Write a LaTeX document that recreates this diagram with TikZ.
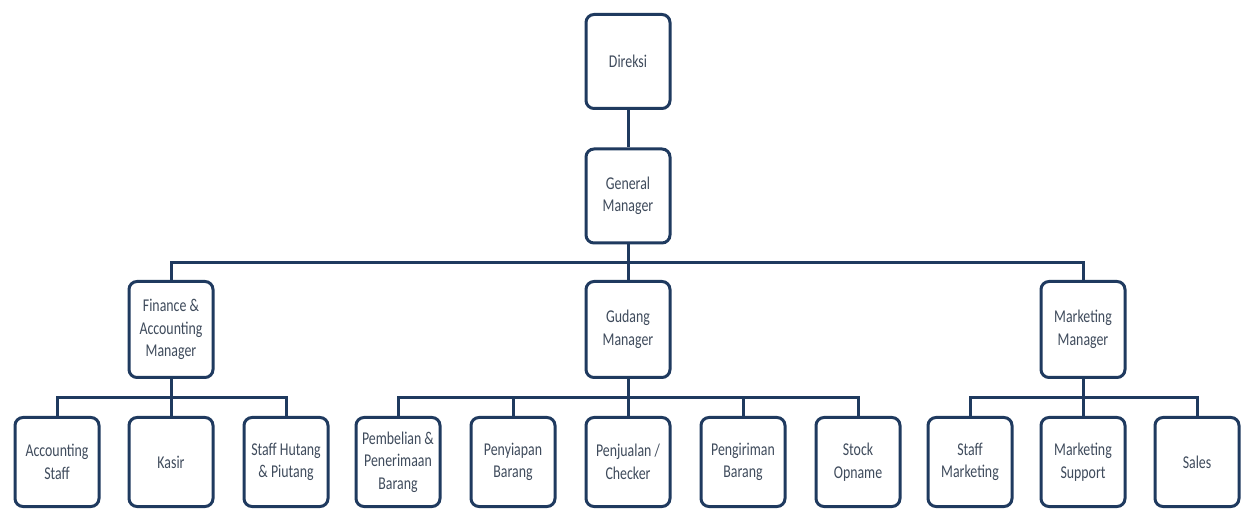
\documentclass[tikz,border=0pt]{standalone}
\usepackage{fontspec}
\setmainfont{Carlito}[FakeStretch=0.77]
\definecolor{navy}{HTML}{1F3A5F}
\definecolor{txt}{HTML}{3F4B5C}
\begin{document}
\begin{tikzpicture}[x=1pt,y=-1pt,
  orgbox/.style={draw=navy, line width=3pt, rounded corners=8pt, fill=white,
    minimum width=84pt, align=center, text=txt, inner sep=1pt,
    font=\fontsize{18}{22.5}\selectfont},
  top/.style={orgbox, minimum height=94pt},
  mid/.style={orgbox, minimum height=96pt},
  low/.style={orgbox, minimum height=89pt},
  conn/.style={draw=navy, line width=3pt}]
\useasboundingbox (0,0) rectangle (1248,510);
\fill[white] (0,0) rectangle (1248,510);
% nodes
\node[top] (dir) at (628,61.5) {Direksi};
\node[top] (gm) at (628,196) {General\\Manager};
\node[mid] (fin) at (171,329.5) {Finance \&\\Accounting\\Manager};
\node[mid] (gud) at (628,329.5) {Gudang\\Manager};
\node[mid] (mkt) at (1083,329.5) {Marketing\\Manager};
\node[low] (acc) at (57,462) {Accounting\\Staff};
\node[low] (kas) at (171,462) {Kasir};
\node[low] (hut) at (286,462) {Staff Hutang\\\& Piutang};
\node[low] (pem) at (398,462) {Pembelian \&\\Penerimaan\\Barang};
\node[low] (pny) at (513,462) {Penyiapan\\Barang};
\node[low] (pnj) at (628,462) {Penjualan /\\Checker};
\node[low] (pgr) at (743,462) {Pengiriman\\Barang};
\node[low] (stk) at (858,462) {Stock\\Opname};
\node[low] (smk) at (970,462) {Staff\\Marketing};
\node[low] (msp) at (1083,462) {Marketing\\Support};
\node[low] (sal) at (1197,462) {Sales};
% bus coordinates
\coordinate (b0) at (628,263);
\coordinate (bf) at (171,398);
\coordinate (bg) at (628,398);
\coordinate (bm) at (1083,398);
% connectors
\draw[conn] (dir.south) -- (gm.north);
\draw[conn] (gm.south) -- (gud.north);
\draw[conn] (fin.north) |- (b0) -| (mkt.north);
\draw[conn] (fin.south) -- (kas.north);
\draw[conn] (acc.north) |- (bf) -| (hut.north);
\draw[conn] (gud.south) -- (pnj.north);
\draw[conn] (pem.north) |- (bg) -| (stk.north);
\draw[conn] (pny.north) -- (pny.north |- bg);
\draw[conn] (pgr.north) -- (pgr.north |- bg);
\draw[conn] (mkt.south) -- (msp.north);
\draw[conn] (smk.north) |- (bm) -| (sal.north);
\end{tikzpicture}
\end{document}
